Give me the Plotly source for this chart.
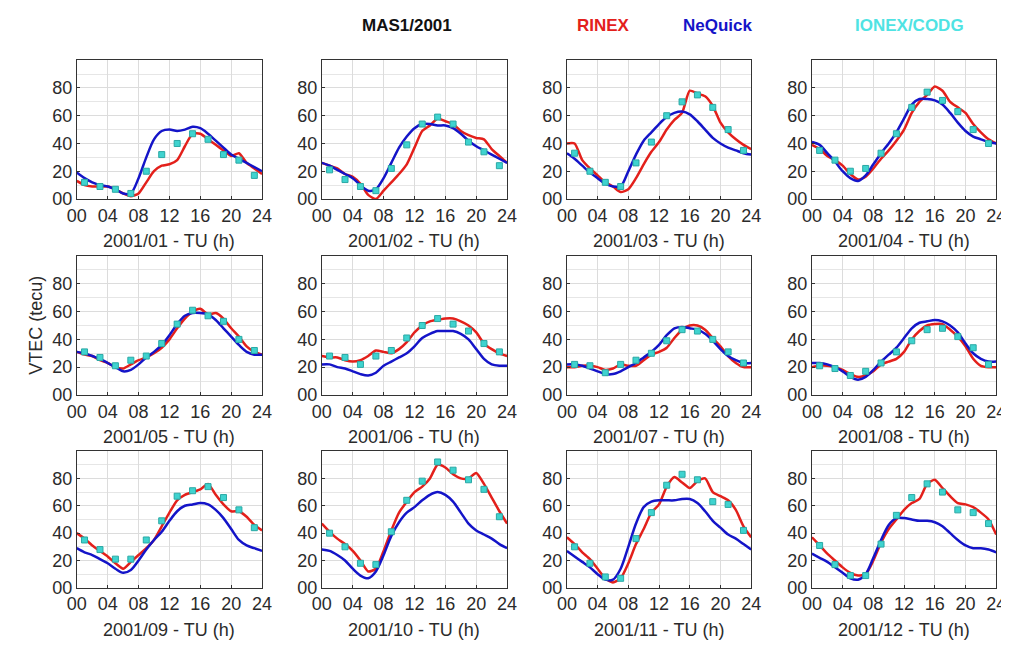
import plotly.graph_objects as go

hours = list(range(25))
ionex_hours = list(range(1, 24, 2))

months = ["2001/01", "2001/02", "2001/03", "2001/04", "2001/05", "2001/06",
          "2001/07", "2001/08", "2001/09", "2001/10", "2001/11", "2001/12"]

y_tickvals = [0, 20, 40, 60, 80]
y_ticktext = ["00", "20", "40", "60", "80"]
x_tickvals = [0, 4, 8, 12, 16, 20, 24]
x_ticktext = ["00", "04", "08", "12", "16", "20", "24"]

# RINEX (red), NeQuick (blue) hourly, IONEX/CODG (cyan) every 2h
rinex_01 = [13, 10, 9, 9, 9, 7, 4, 2, 4, 12, 20, 24, 25, 28, 38, 47, 47, 43, 39, 35, 31, 33, 26, 22, 18]
nequick_01 = [19, 15, 12, 10, 9, 7, 4, 4, 15, 30, 43, 49, 50, 49, 50, 52, 51, 47, 42, 37, 32, 29, 26, 23, 20]
ionex_01 = [12, 9, 7, 4, 20, 32, 40, 47, 43, 32, 28, 17]

rinex_02 = [26, 24, 22, 18, 16, 11, 3, 0, 6, 12, 18, 25, 37, 49, 53, 58, 56, 54, 49, 46, 44, 43, 36, 31, 26]
nequick_02 = [26, 24, 21, 18, 15, 10, 6, 7, 15, 26, 37, 45, 51, 54, 54, 53, 53, 51, 47, 42, 38, 35, 32, 29, 26]
ionex_02 = [21, 14, 9, 6, 22, 39, 54, 59, 54, 41, 34, 24]

rinex_03 = [40, 40, 28, 22, 17, 12, 9, 5, 7, 15, 25, 34, 41, 50, 57, 62, 78, 76, 74, 67, 55, 48, 43, 39, 36]
nequick_03 = [33, 29, 24, 19, 15, 11, 9, 9, 20, 32, 42, 48, 54, 59, 62, 63, 61, 56, 50, 44, 40, 37, 35, 33, 32]
ionex_03 = [33, 20, 12, 9, 26, 41, 60, 70, 75, 66, 50, 35]

rinex_04 = [39, 36, 31, 28, 24, 18, 14, 16, 22, 29, 35, 42, 50, 62, 70, 75, 81, 78, 70, 66, 62, 54, 48, 43, 40]
nequick_04 = [41, 39, 33, 27, 20, 15, 13, 17, 25, 33, 40, 48, 58, 68, 72, 72, 71, 68, 62, 55, 49, 45, 43, 41, 40]
ionex_04 = [35, 28, 20, 22, 33, 47, 66, 77, 71, 63, 50, 40]

rinex_05 = [31, 29, 28, 25, 23, 20, 19, 22, 25, 27, 30, 34, 40, 48, 55, 60, 62, 58, 59, 55, 48, 42, 35, 31, 29]
nequick_05 = [31, 30, 28, 26, 23, 20, 17, 18, 22, 27, 31, 36, 43, 51, 57, 59, 59, 58, 54, 48, 42, 36, 31, 29, 29]
ionex_05 = [31, 27, 21, 25, 28, 37, 51, 61, 57, 53, 40, 32]

rinex_06 = [28, 27, 27, 25, 24, 25, 28, 32, 31, 30, 33, 38, 45, 50, 53, 54, 55, 55, 53, 50, 45, 37, 33, 30, 28]
nequick_06 = [22, 22, 20, 19, 17, 15, 14, 16, 21, 24, 27, 30, 35, 41, 44, 46, 46, 46, 44, 40, 33, 26, 22, 21, 21]
ionex_06 = [28, 27, 22, 28, 32, 41, 50, 55, 51, 46, 37, 31]

rinex_07 = [20, 20, 21, 21, 20, 18, 19, 22, 21, 21, 25, 29, 31, 34, 41, 47, 50, 50, 47, 41, 35, 28, 23, 20, 20]
nequick_07 = [22, 22, 21, 19, 17, 15, 15, 17, 20, 23, 27, 31, 36, 43, 48, 49, 48, 47, 44, 39, 33, 28, 25, 23, 23]
ionex_07 = [22, 21, 16, 22, 25, 30, 39, 47, 46, 40, 31, 23]

rinex_08 = [20, 21, 21, 20, 18, 15, 13, 14, 17, 22, 24, 26, 31, 40, 46, 50, 51, 51, 47, 42, 35, 26, 21, 20, 20]
nequick_08 = [23, 23, 22, 20, 17, 13, 11, 13, 18, 24, 29, 34, 41, 48, 52, 53, 54, 53, 50, 45, 37, 30, 26, 24, 24]
ionex_08 = [21, 19, 14, 17, 23, 31, 39, 47, 48, 42, 34, 22]

rinex_09 = [40, 36, 31, 27, 23, 18, 14, 19, 24, 29, 35, 45, 55, 64, 68, 70, 72, 76, 68, 61, 56, 56, 52, 46, 42]
nequick_09 = [29, 26, 24, 21, 18, 14, 11, 13, 20, 28, 35, 41, 49, 56, 60, 61, 62, 61, 57, 51, 43, 35, 31, 29, 27]
ionex_09 = [35, 28, 21, 21, 35, 49, 67, 71, 74, 66, 57, 44]

rinex_10 = [47, 41, 36, 32, 27, 20, 12, 14, 27, 42, 55, 63, 70, 74, 80, 90, 88, 83, 80, 80, 84, 76, 66, 56, 47]
nequick_10 = [28, 27, 24, 20, 14, 9, 7, 12, 24, 38, 48, 55, 59, 64, 68, 70, 68, 63, 55, 47, 42, 39, 36, 32, 29]
ionex_10 = [40, 30, 18, 17, 41, 64, 78, 92, 86, 79, 72, 52]

rinex_11 = [37, 32, 26, 21, 14, 7, 4, 7, 18, 32, 43, 55, 61, 74, 81, 77, 73, 78, 80, 70, 67, 64, 57, 45, 37]
nequick_11 = [27, 23, 19, 15, 10, 6, 6, 14, 30, 47, 59, 63, 64, 64, 64, 65, 65, 62, 56, 49, 44, 39, 36, 32, 28]
ionex_11 = [30, 18, 8, 7, 36, 55, 75, 83, 79, 63, 61, 42]

rinex_12 = [37, 31, 25, 20, 15, 11, 9, 10, 20, 33, 43, 50, 57, 62, 65, 76, 79, 73, 67, 62, 61, 59, 55, 50, 39]
nequick_12 = [25, 22, 19, 15, 11, 7, 6, 10, 22, 35, 46, 51, 51, 50, 49, 49, 48, 45, 40, 35, 31, 29, 29, 28, 26]
ionex_12 = [31, 17, 9, 9, 32, 53, 66, 76, 70, 57, 55, 47]

panels = [
    (rinex_01, nequick_01, ionex_01), (rinex_02, nequick_02, ionex_02),
    (rinex_03, nequick_03, ionex_03), (rinex_04, nequick_04, ionex_04),
    (rinex_05, nequick_05, ionex_05), (rinex_06, nequick_06, ionex_06),
    (rinex_07, nequick_07, ionex_07), (rinex_08, nequick_08, ionex_08),
    (rinex_09, nequick_09, ionex_09), (rinex_10, nequick_10, ionex_10),
    (rinex_11, nequick_11, ionex_11), (rinex_12, nequick_12, ionex_12),
]

W, H = 1009, 646
col_px = [(60, 249), (310, 499), (560, 748), (810, 998)]
row_px = [(53, 194), (252, 393), (450, 589)]

RED = "#e3201b"
BLUE = "#1414c8"
CYAN = "#3fd3cf"
FONT = "Liberation Sans, Arial, sans-serif"
TXT = "#2b2b2b"

fig = go.Figure()
layout = {}
annotations = []

for i, (rinex, nequick, ionex) in enumerate(panels):
    r, c = divmod(i, 4)
    n = "" if i == 0 else str(i + 1)
    xa, ya = "x" + n, "y" + n

    fig.add_trace(go.Scatter(x=hours, y=rinex, mode="lines", xaxis=xa, yaxis=ya,
                             line=dict(color=RED, width=2.5, shape="spline", smoothing=0.6),
                             showlegend=False))
    fig.add_trace(go.Scatter(x=hours, y=nequick, mode="lines", xaxis=xa, yaxis=ya,
                             line=dict(color=BLUE, width=2.5, shape="spline", smoothing=0.8),
                             showlegend=False))
    fig.add_trace(go.Scatter(x=ionex_hours, y=ionex, mode="markers", xaxis=xa, yaxis=ya,
                             marker=dict(color=CYAN, size=6, symbol="square",
                                         line=dict(color="#2aa8a4", width=1)),
                             showlegend=False))

    x0, x1 = col_px[c]
    y0, y1 = row_px[r]
    layout["xaxis" + n] = dict(
        domain=[x0 / W, x1 / W], anchor=ya, range=[0, 24],
        tickvals=x_tickvals, ticktext=x_ticktext,
        showline=True, mirror=True, linecolor="#333333", linewidth=1,
        ticks="inside", ticklen=3, tickcolor="#333333",
        showgrid=True, gridcolor="#dcdcdc", gridwidth=1, zeroline=False,
        tickfont=dict(size=18, color=TXT, family=FONT), fixedrange=True,
    )
    layout["yaxis" + n] = dict(
        domain=[1 - y1 / H, 1 - y0 / H], anchor=xa, range=[0, 100],
        tickvals=y_tickvals, ticktext=y_ticktext,
        showline=True, mirror=True, linecolor="#333333", linewidth=1,
        ticks="inside", ticklen=3, tickcolor="#333333",
        showgrid=True, gridcolor="#dcdcdc", gridwidth=1, zeroline=False,
        minor=dict(dtick=10, showgrid=True, gridcolor="#e6e6e6"),
        tickfont=dict(size=18, color=TXT, family=FONT), fixedrange=True,
    )

    annotations.append(dict(
        text=months[i] + " - TU (h)", x=(x0 + x1) / 2 / W, y=1 - (y1 + 43) / H,
        xref="paper", yref="paper", showarrow=False,
        xanchor="center", yanchor="middle",
        font=dict(size=18, color=TXT, family=FONT),
    ))

header = [("MAS1/2001", 397, "#111111"), ("RINEX", 597, RED),
          ("NeQuick", 714, BLUE), ("IONEX/CODG", 910, "#4fe3e3")]
for text, xp, col in header:
    annotations.append(dict(
        text="<b>" + text + "</b>", x=xp / W, y=1 - 18 / H,
        xref="paper", yref="paper", showarrow=False,
        xanchor="center", yanchor="middle",
        font=dict(size=17, color=col, family=FONT),
    ))

annotations.append(dict(
    text="VTEC (tecu)", x=18 / W, y=1 - 322 / H, textangle=-90,
    xref="paper", yref="paper", showarrow=False,
    xanchor="center", yanchor="middle",
    font=dict(size=18, color=TXT, family=FONT),
))

fig.update_layout(
    width=W, height=H,
    margin=dict(l=0, r=0, t=0, b=0),
    paper_bgcolor="white", plot_bgcolor="white",
    annotations=annotations,
    **layout,
)

fig.write_html("out.html")
